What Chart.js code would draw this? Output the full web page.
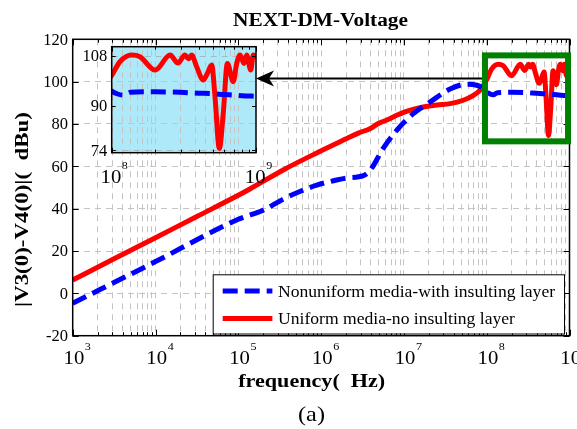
<!DOCTYPE html>
<html><head><meta charset="utf-8">
<script src="https://cdn.jsdelivr.net/npm/chart.js@4.4.1/dist/chart.umd.min.js"></script>
<style>
html,body{margin:0;padding:0;background:#fff;}
#wrap{position:relative;width:577px;height:429px;overflow:hidden;}
#main{position:absolute;left:0;top:0;}
#inset{position:absolute;left:70px;top:40px;}
</style></head><body>
<div id="wrap"><canvas id="main" width="577" height="429"></canvas><canvas id="inset" width="215" height="150"></canvas></div>
<script>
// ---------------- data ----------------
const uniformFreq = [1e3, 3.16e3, 1e4, 3.16e4, 1e5, 1.38e5, 3.49e5, 8.85e5, 2.04e6, 2.82e6, 3.89e6, 4.9e6, 6.31e6, 8.18e6, 1.12e7, 1.71e7, 2.51e7, 3.61e7, 5.21e7, 6.92e7, 8.32e7, 9.55e7, 1e8, 1.14e8, 1.376e8, 1.57e8, 2e8, 2.54e8, 2.88e8, 3.22e8, 3.4e8, 3.58e8, 3.88e8, 4.31e8, 4.6e8, 4.93e8, 5.2e8, 5.57e8, 5.93e8, 6.33e8, 6.96e8, 7.35e8, 7.75e8, 8.26e8, 8.62e8, 9.19e8, 9.58e8, 1e9];
const uniformDb = [6.3, 16.3, 26.3, 36.3, 46.3, 49.3, 58.3, 66.3, 73.1, 75.7, 77.8, 80.2, 82.0, 84.1, 86.2, 88.0, 89.0, 89.6, 91.2, 93.5, 96.0, 99.5, 100.9, 105.8, 108.2, 107.6, 102.8, 108.2, 105.3, 108.2, 106.9, 108.2, 104.0, 99.2, 101.6, 104.6, 93.2, 74.6, 87.2, 105.2, 98.6, 105.2, 108.2, 105.2, 108.2, 102.8, 108.2, 107.0];
const nonuniformFreq = [1e3, 1e4, 1e5, 2e5, 3.49e5, 5.62e5, 8.85e5, 1.41e6, 2.04e6, 3.24e6, 3.98e6, 5.62e6, 8.18e6, 1.3e7, 2.07e7, 3.61e7, 5.73e7, 7.59e7, 9.55e7, 1e8, 1.1e8, 1.2e8, 1.35e8, 2e8, 3e8, 4e8, 5e8, 6e8, 7e8, 8e8, 1e9];
const nonuniformDb = [-4.7, 15.0, 35.0, 39.3, 44.5, 48.2, 51.1, 53.2, 54.5, 55.6, 58.5, 68.5, 77.0, 84.9, 90.4, 96.5, 98.8, 98.3, 96.0, 95.2, 94.2, 93.8, 94.8, 95.0, 94.8, 94.5, 94.3, 94.0, 93.8, 93.6, 93.4];
const seriesNames = ['Nonuniform media-with insulting layer', 'Uniform media-no insulting layer'];
const yTickVals = [-20, 0, 20, 40, 60, 80, 100, 120];
const xDecades = [3, 4, 5, 6, 7, 8, 9];
const insetYTickVals = [74, 90, 108];
const insetYGrid = [74, 108];
const insetXDecades = [8, 9];
const chartTitle = 'NEXT-DM-Voltage';
const xTitle = 'frequency(  Hz)';
const yTitle = '|V3(0)-V4(0)|(  dBu)';
const panelLabel = '(a)';
// zoom-box (data coords) and arrow level
const zoomBox = {x0: 9.53e7, x1: 9.6e8, y0: 71.8, y1: 112.4};
const arrowLevel = 101.5;

// ---------------- helpers ----------------
const FONT = '"Liberation Serif","Times New Roman",serif';
const BLUE = '#0000ff', RED = '#ff0000';
function pts(f, v) { return f.map((x, i) => ({x: x, y: v[i]})); }
function logTicks(e0, e1) {
  const t = [];
  for (let e = e0; e < e1; e++) for (let m = 1; m <= 9; m++) t.push(m * Math.pow(10, e));
  t.push(Math.pow(10, e1));
  return t;
}
const xTickVals = logTicks(3, 9);
const insetXTickVals = logTicks(8, 9);
const INSET = {left: 111.7, top: 46.7, right: 256, bottom: 152.7};
const INSET_CANVAS = {left: 70, top: 40, w: 215, h: 150};

function isMajor(v) { const m = v / Math.pow(10, Math.floor(Math.log10(v) + 1e-9)); return Math.abs(m - 1) < 1e-6; }

// text stretched horizontally to a target width, centred at (x, y)
function fitText(ctx, text, x, y, font, width) {
  ctx.save();
  ctx.font = font; ctx.textAlign = 'center';
  const w = ctx.measureText(text).width;
  ctx.translate(x, y); ctx.scale(width / w, 1);
  ctx.fillText(text, 0, 0);
  ctx.restore();
}

function drawPow(ctx, px, base, exp) {
  ctx.save();
  ctx.textBaseline = 'alphabetic';
  ctx.font = '18px ' + FONT; ctx.textAlign = 'center';
  const cx = px + 1.2;
  ctx.translate(cx, base); ctx.scale(1.15, 1);
  ctx.fillText('10', 0, 0);
  const w = ctx.measureText('10').width;
  ctx.font = '10.5px ' + FONT; ctx.textAlign = 'left';
  ctx.fillText(String(exp), w / 2 + 0.5, -14);
  ctx.restore();
}

// ---------------- main chart ----------------
const mainDeco = {
  id: 'mainDeco',
  beforeDraw(chart) {
    const ctx = chart.ctx;
    ctx.save();
    ctx.fillStyle = '#fff'; ctx.fillRect(0, 0, chart.width, chart.height);
    ctx.fillStyle = '#aee9f9';
    ctx.fillRect(INSET.left, INSET.top, INSET.right - INSET.left, INSET.bottom - INSET.top);
    ctx.restore();
  },
  afterDraw(chart) {
    const ctx = chart.ctx, a = chart.chartArea, xs = chart.scales.x, ys = chart.scales.y;
    ctx.save();
    ctx.strokeStyle = '#000'; ctx.fillStyle = '#000'; ctx.lineWidth = 1;
    // ticks
    ctx.beginPath();
    xTickVals.forEach(v => {
      const p = Math.round(xs.getPixelForValue(v)) + 0.5, L = isMajor(v) ? 6 : 3.5;
      ctx.moveTo(p, a.bottom); ctx.lineTo(p, a.bottom - L);
      ctx.moveTo(p, a.top); ctx.lineTo(p, a.top + L);
    });
    yTickVals.forEach(v => {
      const p = Math.round(ys.getPixelForValue(v)) + 0.5;
      ctx.moveTo(a.left, p); ctx.lineTo(a.left + 6, p);
      ctx.moveTo(a.right, p); ctx.lineTo(a.right - 6, p);
    });
    ctx.stroke();
    // frame
    ctx.lineWidth = 1.5;
    ctx.strokeRect(a.left, a.top, a.right - a.left, a.bottom - a.top);
    // y tick labels
    ctx.font = '16.5px ' + FONT; ctx.textAlign = 'right'; ctx.textBaseline = 'middle';
    yTickVals.forEach(v => ctx.fillText(String(v), 68, ys.getPixelForValue(v) + 1));
    // x tick labels
    xDecades.forEach(e => drawPow(ctx, xs.getPixelForValue(Math.pow(10, e)), 364, e));
    // titles
    ctx.textBaseline = 'alphabetic';
    fitText(ctx, chartTitle, 320.5, 25.5, 'bold 18px ' + FONT, 175);
    fitText(ctx, xTitle, 311.7, 387, 'bold 18px ' + FONT, 147);
    fitText(ctx, panelLabel, 311.5, 421, '22px ' + FONT, 27);
    ctx.save();
    ctx.translate(28, 209.5); ctx.rotate(-Math.PI / 2);
    fitText(ctx, yTitle, 0, 0, 'bold 18px ' + FONT, 195);
    ctx.restore();
    // legend
    const lg = {l: 212.7, t: 274.3, r: 564, b: 333.5};
    ctx.fillStyle = '#fff'; ctx.fillRect(lg.l, lg.t, lg.r - lg.l, lg.b - lg.t);
    ctx.lineWidth = 1; ctx.strokeStyle = '#000';
    ctx.strokeRect(lg.l + 0.5, lg.t + 0.5, lg.r - lg.l, lg.b - lg.t);
    const rows = [291, 318.5];
    chart.data.datasets.forEach((ds, i) => {
      ctx.save();
      ctx.strokeStyle = ds.borderColor; ctx.lineWidth = ds.borderWidth;
      ctx.setLineDash(ds.borderDash || []);
      ctx.beginPath(); ctx.moveTo(222.7, rows[i]); ctx.lineTo(272.4, rows[i]); ctx.stroke();
      ctx.restore();
      ctx.fillStyle = '#000'; ctx.font = '17.6px ' + FONT; ctx.textAlign = 'left'; ctx.textBaseline = 'middle';
      ctx.fillText(ds.label, 278, rows[i] + 1);
    });
    // arrow
    const ay = ys.getPixelForValue(arrowLevel);
    const bx0 = xs.getPixelForValue(zoomBox.x0), bx1 = xs.getPixelForValue(zoomBox.x1);
    const by0 = ys.getPixelForValue(zoomBox.y1), by1 = ys.getPixelForValue(zoomBox.y0);
    ctx.strokeStyle = '#000'; ctx.fillStyle = '#000'; ctx.lineWidth = 2;
    ctx.beginPath(); ctx.moveTo(bx0 - 3, ay); ctx.lineTo(268, ay); ctx.stroke();
    const tip = INSET.right;
    ctx.beginPath(); ctx.moveTo(tip, ay); ctx.lineTo(tip + 18, ay - 8); ctx.lineTo(tip + 13, ay); ctx.lineTo(tip + 18, ay + 8); ctx.closePath(); ctx.fill();
    // zoom box
    ctx.strokeStyle = '#008000'; ctx.lineWidth = 6;
    ctx.strokeRect(bx0, by0, bx1 - bx0, by1 - by0);
    ctx.restore();
  }
};

const gridOpts = {color: '#c4c4c4', lineWidth: 1, drawTicks: false};
const borderOpts = {display: false, dash: [6, 5]};

function datasets() {
  return [
    {label: seriesNames[0], data: pts(nonuniformFreq, nonuniformDb), borderColor: BLUE, borderWidth: 5, borderDash: [15, 7], pointRadius: 0, cubicInterpolationMode: 'monotone', fill: false},
    {label: seriesNames[1], data: pts(uniformFreq, uniformDb), borderColor: RED, borderWidth: 5, pointRadius: 0, cubicInterpolationMode: 'monotone', fill: false}
  ];
}

new Chart(document.getElementById('main'), {
  type: 'line',
  data: {datasets: datasets()},
  options: {
    responsive: false, animation: false, devicePixelRatio: 1,
    layout: {padding: {left: 0, top: 39.3, right: 7.5, bottom: 0}},
    plugins: {legend: {display: false}, tooltip: {enabled: false}, title: {display: false}},
    scales: {
      x: {type: 'logarithmic', min: 1e3, max: 1e9,
          afterBuildTicks: s => { s.ticks = xTickVals.map(v => ({value: v})); },
          ticks: {display: false}, grid: gridOpts, border: borderOpts,
          afterFit: s => { s.height = 429 - 335.7; }},
      y: {type: 'linear', min: -20, max: 120,
          afterBuildTicks: s => { s.ticks = yTickVals.map(v => ({value: v})); },
          ticks: {display: false}, grid: gridOpts, border: borderOpts,
          afterFit: s => { s.width = 72.7; }}
    }
  },
  plugins: [mainDeco]
});

// ---------------- inset chart ----------------
const insetDeco = {
  id: 'insetDeco',
  beforeDatasetsDraw(chart) {
    const ctx = chart.ctx, a = chart.chartArea, ys = chart.scales.y;
    ctx.save();
    ctx.strokeStyle = '#a8b8c0'; ctx.lineWidth = 1; ctx.setLineDash([6, 5]);
    ctx.beginPath();
    insetYGrid.forEach(v => { const p = Math.round(ys.getPixelForValue(v)) + 0.5; ctx.moveTo(a.left, p); ctx.lineTo(a.right, p); });
    ctx.stroke();
    ctx.restore();
  },
  afterDraw(chart) {
    const ctx = chart.ctx, a = chart.chartArea, xs = chart.scales.x, ys = chart.scales.y;
    ctx.save();
    ctx.strokeStyle = '#000'; ctx.fillStyle = '#000'; ctx.lineWidth = 1;
    ctx.beginPath();
    insetXTickVals.forEach(v => {
      const p = Math.round(xs.getPixelForValue(v)) + 0.5, L = isMajor(v) ? 5 : 3;
      ctx.moveTo(p, a.bottom); ctx.lineTo(p, a.bottom - L);
      ctx.moveTo(p, a.top); ctx.lineTo(p, a.top + L);
    });
    insetYTickVals.forEach(v => {
      const p = Math.round(ys.getPixelForValue(v)) + 0.5;
      ctx.moveTo(a.left, p); ctx.lineTo(a.left + 4, p);
      ctx.moveTo(a.right, p); ctx.lineTo(a.right - 4, p);
    });
    ctx.stroke();
    ctx.lineWidth = 1.5;
    ctx.strokeRect(a.left, a.top, a.right - a.left, a.bottom - a.top);
    ctx.font = '16.5px ' + FONT; ctx.textAlign = 'right'; ctx.textBaseline = 'middle';
    insetYTickVals.forEach(v => ctx.fillText(String(v), a.left - 4.5, ys.getPixelForValue(v) + 1));
    insetXDecades.forEach(e => drawPow(ctx, xs.getPixelForValue(Math.pow(10, e)) - 2, a.bottom + 30, e));
    ctx.restore();
  }
};

new Chart(document.getElementById('inset'), {
  type: 'line',
  data: {datasets: datasets()},
  options: {
    responsive: false, animation: false, devicePixelRatio: 1,
    layout: {padding: {left: INSET.left - INSET_CANVAS.left, top: INSET.top - INSET_CANVAS.top,
                       right: INSET_CANVAS.w - (INSET.right - INSET_CANVAS.left), bottom: INSET_CANVAS.h - (INSET.bottom - INSET_CANVAS.top)}},
    plugins: {legend: {display: false}, tooltip: {enabled: false}},
    scales: {
      x: {type: 'logarithmic', min: 1e8, max: 1e9, display: false},
      y: {type: 'linear', min: 73.1, max: 111.2, display: false}
    }
  },
  plugins: [insetDeco]
});
</script></body></html>
